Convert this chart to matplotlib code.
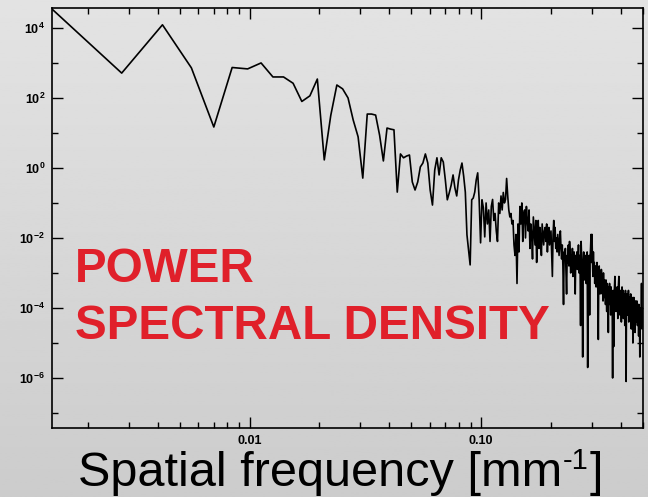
import numpy as np
import matplotlib
matplotlib.use('Agg')
import matplotlib.pyplot as plt
from matplotlib.ticker import FixedLocator, FixedFormatter, NullFormatter

plt.rcParams['font.family'] = ['Liberation Sans', 'DejaVu Sans']
plt.rcParams['mathtext.fontset'] = 'custom'
plt.rcParams['mathtext.rm'] = 'Liberation Sans'
plt.rcParams['mathtext.bf'] = 'Liberation Sans:bold'

# frequency step of the spectrum [mm^-1]
df = 0.0014

# log10 of the power spectral density, first bins (read one by one)
log_psd_low = [
    4.54, 2.71, 4.09, 2.86, 1.17, 2.87, 2.83, 3.0, 2.6, 2.6,
    2.42, 1.9, 2.06, 2.54, 0.23, 1.5, 2.37, 2.26, 2.0, 1.37,
    0.89, -0.29, 1.54, 1.54, 1.51, 0.94, 0.2, 1.14, 1.11, 1.09,
    -0.69, 0.4, 0.29, 0.34, 0.37, -0.4, -0.63, -0.4, 0.03, 0.14,
    0.4, 0.14, -0.63, -1.06, -0.06, 0.29, -0.2, 0.29, 0.17, -0.34,
    -0.91, -0.71, -0.49, -0.2, -0.57, -0.8, -0.34, -0.06, 0.14, -0.23,
    -0.69, -1.91, -2.34, -2.77, -0.91, -0.86, -0.69, -0.34, -0.14, -0.91,
    -2.14, -0.91, -1.14, -1.97,
]
# log10 PSD, dense high-frequency part (estimated from the band)
log_psd_high = [
    -1.0, -1.6, -1.2, -2.1, -1.1, -0.9, -1.5, -1.3, -1.8, -2.1,
    -1.0, -1.3, -0.8, -1.2, -0.7, -1.0, -0.9, -0.3, -0.8, -1.2,
    -1.4, -1.3, -1.6, -1.5, -2.2, -2.5, -1.9, -3.3, -1.6, -2.4,
    -1.1, -1.6, -1.0, -2.1, -1.3, -1.2, -2.0, -1.1, -1.5, -1.8,
    -1.2, -2.3, -1.6, -1.9, -2.6, -1.4, -1.8, -2.2, -1.5, -2.7,
    -1.9, -1.5, -2.3, -1.7, -2.0, -2.5, -1.6, -1.9, -2.2, -1.8,
    -1.7, -2.1, -1.6, -2.4, -1.9, -1.7, -2.2, -2.0, -1.8, -2.5,
    -3.1, -1.9, -1.5, -2.1, -1.7, -2.3, -2.0, -2.4, -1.9, -2.2,
    -2.5, -2.0, -1.8, -2.3, -2.6, -2.2, -2.8, -3.9, -2.4, -2.6,
    -2.3, -2.9, -3.6, -2.5, -2.7, -2.2, -2.8, -2.1, -2.4, -3.0,
    -2.5, -2.7, -2.3, -3.1, -2.6, -2.4, -2.9, -3.6, -2.5, -2.8,
    -2.4, -2.9, -2.6, -2.2, -3.0, -2.5, -2.8, -4.5, -2.1, -2.6,
    -3.1, -5.4, -2.7, -2.4, -3.2, -2.6, -2.9, -2.5, -3.3, -2.7,
    -2.4, -5.7, -2.8, -3.0, -2.5, -4.2, -2.6, -2.3, -1.9, -2.7,
    -1.9, -2.6, -3.1, -2.4, -2.9, -2.7, -3.3, -2.8, -3.0, -3.4,
    -2.9, -2.7, -3.2, -3.5, -4.9, -3.0, -2.8, -3.3, -3.6, -3.1,
    -3.4, -2.9, -3.1, -3.6, -3.3, -3.8, -3.0, -3.5, -3.2, -3.7,
    -3.4, -3.9, -3.2, -3.6, -4.1, -3.3, -3.7, -3.5, -4.7, -3.4,
    -3.6, -3.3, -3.9, -3.5, -4.2, -3.4, -3.8, -3.6, -4.0, -6.0,
    -3.5, -3.7, -5.1, -3.6, -3.4, -3.1, -3.8, -3.5, -4.1, -3.6,
    -3.9, -3.4, -3.7, -4.3, -3.5, -3.3, -3.1, -3.8, -3.6, -4.2,
    -3.5, -3.9, -3.7, -4.4, -3.6, -3.4, -3.8, -4.0, -3.5, -4.3,
    -3.7, -3.9, -3.6, -4.5, -3.8, -3.5, -4.1, -6.1, -3.7, -3.9,
    -3.6, -4.2, -3.8, -4.0, -3.5, -4.4, -3.9, -3.7, -4.3, -3.8,
    -4.1, -3.6, -4.0, -4.6, -3.8, -3.7, -4.2, -3.9, -5.0, -3.8,
    -4.0, -3.7, -4.3, -3.9, -4.1, -4.7, -3.8, -4.0, -4.4, -3.9,
    -4.2, -3.8, -4.1, -4.5, -3.9, -4.3, -4.0, -4.8, -3.9, -4.2,
    -4.4, -5.4, -4.0, -4.3, -4.1, -4.6, -3.9, -3.3, -4.2, -4.5,
    -4.0, -4.4, -4.6,
]

y_major = [1e-6, 1e-4, 1e-2, 1e0, 1e2, 1e4]
y_major_labels = [r'$\mathbf{10^{-6}}$', r'$\mathbf{10^{-4}}$', r'$\mathbf{10^{-2}}$',
                  r'$\mathbf{10^{0}}$', r'$\mathbf{10^{2}}$', r'$\mathbf{10^{4}}$']
y_minor = [1e-7, 1e-5, 1e-3, 1e-1, 1e1, 1e3]
x_major = [0.01, 0.1]
x_major_labels = ['0.01', '0.10']
x_minor = [m * d for d in (0.001, 0.01, 0.1) for m in range(2, 10)]

psd = 10 ** np.array(log_psd_low + log_psd_high)
freq = df * np.arange(1, len(psd) + 1)

fig = plt.figure(figsize=(6.48, 4.97), dpi=100)

# grey gradient background
bg = fig.add_axes([0, 0, 1, 1], zorder=-10)
bg.imshow(np.linspace(0.89, 0.80, 256)[:, None], cmap='gray', vmin=0, vmax=1,
          aspect='auto', extent=[0, 1, 0, 1])
bg.axis('off')

ax = fig.add_axes([52 / 648, 1 - 428 / 497, 591 / 648, 420 / 497])
ax.set_facecolor('none')
ax.plot(freq, psd, color='black', lw=1.2)
ax.set_xscale('log')
ax.set_yscale('log')
ax.set_xlim(0.0014, 0.5)
ax.set_ylim(10 ** -7.43, 10 ** 4.57)

ax.yaxis.set_major_locator(FixedLocator(y_major))
ax.yaxis.set_major_formatter(FixedFormatter(y_major_labels))
ax.yaxis.set_minor_locator(FixedLocator(y_minor))
ax.yaxis.set_minor_formatter(NullFormatter())
ax.xaxis.set_major_locator(FixedLocator(x_major))
ax.xaxis.set_major_formatter(FixedFormatter(x_major_labels))
ax.xaxis.set_minor_locator(FixedLocator(x_minor))
ax.xaxis.set_minor_formatter(NullFormatter())

ax.tick_params(which='both', direction='in', top=True, right=True, color='black', width=1.0)
ax.tick_params(which='major', length=8, labelsize=9)
ax.tick_params(which='minor', length=4)
ax.tick_params(axis='y', which='major', pad=5)
ax.tick_params(axis='x', which='major', pad=5)
for lab in ax.get_xticklabels():
    lab.set_fontweight('bold')
for sp in ax.spines.values():
    sp.set_linewidth(1.2)

red = '#e0202a'
fig.text(75 / 648, 1 - 282 / 497, 'POWER', color=red, fontsize=34.3,
         fontweight='bold', va='baseline', ha='left')
fig.text(75 / 648, 1 - 339 / 497, 'SPECTRAL DENSITY', color=red, fontsize=34.3,
         fontweight='bold', va='baseline', ha='left')

# x label built from pieces so the exponent stays small
base_y = 1 - 486 / 497
t1 = fig.text(78 / 648, base_y, 'Spatial frequency [mm', fontsize=35,
              va='baseline', ha='left')
r = fig.canvas.get_renderer()
x_end = t1.get_window_extent(r).x1 / fig.bbox.width
t2 = fig.text(x_end + 1 / 648, base_y + 17 / 497, '-1', fontsize=21,
              va='baseline', ha='left')
x_end2 = t2.get_window_extent(r).x1 / fig.bbox.width
fig.text(x_end2 + 1 / 648, base_y, ']', fontsize=35, va='baseline', ha='left')

fig.savefig('out.png', dpi=100)
